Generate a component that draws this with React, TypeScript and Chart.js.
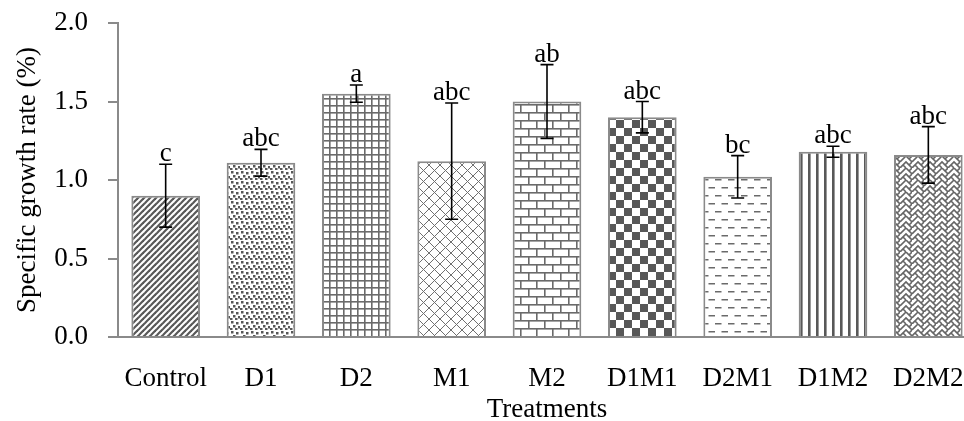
import React, { useEffect, useRef } from "react";
import { Chart, registerables } from "chart.js";

Chart.register(...registerables);

const categories = ["Control", "D1", "D2", "M1", "M2", "D1M1", "D2M1", "D1M2", "D2M2"];
const means = [0.9, 1.11, 1.55, 1.12, 1.5, 1.4, 1.02, 1.18, 1.16];
const errors = [0.2, 0.085, 0.055, 0.37, 0.235, 0.1, 0.135, 0.035, 0.18];
const letters = ["c", "abc", "a", "abc", "ab", "abc", "bc", "abc", "abc"];
const yTicks = [0, 0.5, 1.0, 1.5, 2.0];
const patternKinds = ["diag", "dots", "grid", "diamond", "brick", "checker", "dash", "vlines", "weave"];

const FONT = "'Liberation Serif', 'Times New Roman', serif";
const DARK = "#585858";
const AXIS = "#8a8a8a";

function makePattern(kind: string): CanvasPattern | string {
  const c = document.createElement("canvas");
  const sizes: Record<string, [number, number]> = {
    diag: [6, 6], dots: [10, 10], grid: [7, 7], diamond: [11, 11], brick: [16, 16],
    checker: [16, 16], dash: [13, 16], vlines: [8, 8], weave: [12, 12],
  };
  const [w, h] = sizes[kind];
  c.width = w; c.height = h;
  const g = c.getContext("2d")!;
  g.fillStyle = "#ffffff";
  g.fillRect(0, 0, w, h);
  g.fillStyle = DARK;
  const line = (pts: number[][], lw: number, col = DARK) => {
    g.beginPath();
    g.lineWidth = lw;
    g.strokeStyle = col;
    g.moveTo(pts[0][0], pts[0][1]);
    for (let i = 1; i < pts.length; i++) g.lineTo(pts[i][0], pts[i][1]);
    g.stroke();
  };
  switch (kind) {
    case "diag":
      line([[-1, 7], [7, -1]], 2.2);
      line([[-4, 4], [4, -4]], 2.2);
      line([[2, 10], [10, 2]], 2.2);
      break;
    case "dots":
      [[1, 1], [6, 2], [3, 5], [8, 6], [0, 8], [5, 8]].forEach(([x, y]) => g.fillRect(x, y, 2.5, 2.5));
      break;
    case "grid":
      g.fillStyle = "#6a6a6a";
      g.fillRect(0, 0, 1.6, h);
      g.fillRect(0, 0, w, 1.6);
      break;
    case "diamond":
      line([[0, 0], [11, 11]], 1, "#707070");
      line([[0, 11], [11, 0]], 1, "#707070");
      break;
    case "brick":
      g.fillStyle = "#6a6a6a";
      g.fillRect(0, 0, w, 1.6);
      g.fillRect(0, 8, w, 1.6);
      g.fillRect(0, 0, 1.6, 8);
      g.fillRect(8, 8, 1.6, 8);
      break;
    case "checker":
      g.fillRect(0, 0, 8, 8);
      g.fillRect(8, 8, 8, 8);
      break;
    case "dash":
      g.fillStyle = "#6a6a6a";
      g.fillRect(0, 3, 6.5, 1.5);
      g.fillRect(6.5, 11, 6.5, 1.5);
      break;
    case "vlines":
      g.fillRect(0, 0, 2.6, h);
      break;
    case "weave": {
      const col = "#666666";
      line([[0, 6], [6, 0], [12, 6]], 1.6, col);
      line([[0, 12], [6, 6], [12, 12]], 1.6, col);
      line([[-3, 3], [0, 6]], 1.6, col);
      line([[3, 9], [6, 12]], 1.6, col);
      line([[9, 3], [12, 0]], 1.6, col);
      line([[9, 9], [12, 6]], 1.6, col);
      break;
    }
  }
  const p = g.createPattern(c, "repeat");
  return p || DARK;
}

const errorBarPlugin = {
  id: "errorBars",
  afterDatasetsDraw(chart: any) {
    const { ctx, scales } = chart;
    const meta = chart.getDatasetMeta(0);
    const y = scales.y;
    ctx.save();
    meta.data.forEach((bar: any, i: number) => {
      const top = y.getPixelForValue(means[i] + errors[i]);
      const bot = y.getPixelForValue(means[i] - errors[i]);
      const x = bar.x;
      ctx.strokeStyle = "#000";
      ctx.lineWidth = 1.6;
      ctx.beginPath();
      ctx.moveTo(x, top);
      ctx.lineTo(x, bot);
      ctx.moveTo(x - 6.5, top);
      ctx.lineTo(x + 6.5, top);
      ctx.moveTo(x - 6.5, bot);
      ctx.lineTo(x + 6.5, bot);
      ctx.stroke();
      ctx.fillStyle = "#000";
      ctx.font = `27px ${FONT}`;
      ctx.textAlign = "center";
      ctx.textBaseline = "alphabetic";
      ctx.fillText(letters[i], x, top - 3);
    });
    ctx.restore();
  },
};

export default function App() {
  const ref = useRef<HTMLCanvasElement | null>(null);
  useEffect(() => {
    if (!ref.current) return;
    const patterns = patternKinds.map(makePattern);
    const chart = new Chart(ref.current, {
      type: "bar",
      data: {
        labels: categories,
        datasets: [
          {
            data: means,
            backgroundColor: patterns as any,
            borderColor: AXIS,
            borderWidth: 2,
            barPercentage: 0.72,
            categoryPercentage: 1,
          },
        ],
      },
      options: {
        responsive: false,
        animation: false,
        layout: { padding: { top: 23, right: 0, bottom: 0, left: 0 } },
        plugins: { legend: { display: false }, tooltip: { enabled: false } },
        scales: {
          x: {
            grid: { display: false },
            border: { display: true, color: AXIS, width: 2 },
            ticks: { color: "#000", font: { family: FONT, size: 27 }, padding: 18, maxRotation: 0, autoSkip: false },
            title: {
              display: true,
              text: "Treatments",
              color: "#000",
              font: { family: FONT, size: 27, lineHeight: 0.85 },
              padding: { top: 0, bottom: 0 },
            },
            afterFit: (s: any) => { s.height = 84; s.paddingLeft = 0; s.paddingRight = 0; },
          },
          y: {
            min: 0,
            max: 2,
            afterBuildTicks: (s: any) => { s.ticks = yTicks.map((v) => ({ value: v })); },
            ticks: {
              color: "#000",
              font: { family: FONT, size: 27 },
              padding: 20,
              callback: (v: any) => Number(v).toFixed(1),
            },
            grid: { drawOnChartArea: false, drawTicks: true, tickLength: 10, color: AXIS, lineWidth: 2 },
            border: { display: true, color: AXIS, width: 2 },
            title: {
              display: true,
              text: "Specific growth rate (%)",
              color: "#000",
              font: { family: FONT, size: 27, lineHeight: 1.2 },
              padding: { top: 12, bottom: 0 },
            },
            afterFit: (s: any) => { s.width = 118; s.paddingTop = 0; s.paddingBottom = 0; },
          },
        },
      },
      plugins: [errorBarPlugin],
    });
    return () => chart.destroy();
  }, []);
  return (
    <div style={{ position: "absolute", left: 0, top: 0, width: 964, height: 421, overflow: "hidden", background: "#fff" }}>
      <canvas ref={ref} width={976} height={421} style={{ display: "block" }} />
    </div>
  );
}
